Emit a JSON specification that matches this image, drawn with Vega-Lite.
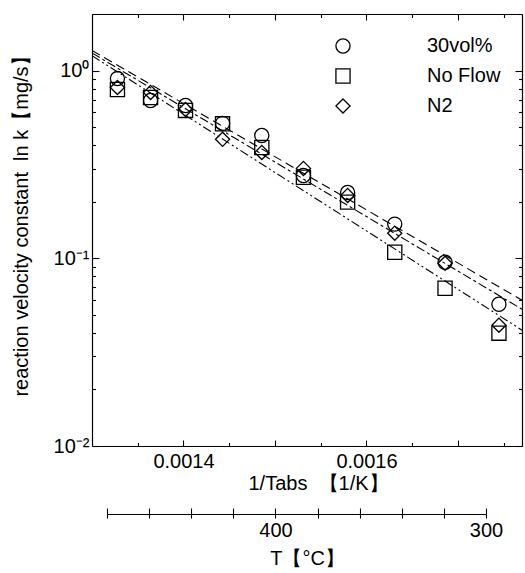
{
  "$schema": "https://vega.github.io/schema/vega-lite/v6.json",
  "width": 430,
  "height": 432,
  "autosize": {"type": "none"},
  "padding": {"left": 92, "top": 14, "right": 3, "bottom": 127},
  "background": "white",
  "config": {
    "view": {"stroke": null},
    "font": "Liberation Sans",
    "axis": {
      "labelFont": "Liberation Sans", "titleFont": "Liberation Sans",
      "labelFontSize": 20, "titleFontSize": 20, "labelColor": "black", "titleColor": "black",
      "titleFontWeight": "normal", "domainColor": "black", "tickColor": "black",
      "domainWidth": 1.2, "tickWidth": 1.1, "grid": false, "labelOverlap": false, "labelFlush": false
    },
    "legend": {
      "labelFont": "Liberation Sans", "labelFontSize": 20, "labelColor": "black",
      "symbolStrokeColor": "black", "symbolStrokeWidth": 1.3, "symbolSize": 200,
      "symbolFillColor": "transparent", "labelOffset": 74, "rowPadding": 10, "padding": 0
    }
  },
  "datasets": {
    "pts": [
      {"series": "30vol%", "invT": 0.0013278, "k": 0.906},
      {"series": "No Flow", "invT": 0.0013278, "k": 0.792},
      {"series": "N2", "invT": 0.0013278, "k": 0.812},
      {"series": "30vol%", "invT": 0.001364, "k": 0.692},
      {"series": "No Flow", "invT": 0.001364, "k": 0.718},
      {"series": "N2", "invT": 0.001364, "k": 0.764},
      {"series": "30vol%", "invT": 0.0014022, "k": 0.651},
      {"series": "No Flow", "invT": 0.0014022, "k": 0.613},
      {"series": "N2", "invT": 0.0014022, "k": 0.62},
      {"series": "30vol%", "invT": 0.0014427, "k": 0.523},
      {"series": "No Flow", "invT": 0.0014427, "k": 0.52},
      {"series": "N2", "invT": 0.0014427, "k": 0.43},
      {"series": "30vol%", "invT": 0.0014856, "k": 0.451},
      {"series": "No Flow", "invT": 0.0014856, "k": 0.389},
      {"series": "N2", "invT": 0.0014856, "k": 0.366},
      {"series": "30vol%", "invT": 0.0015311, "k": 0.276},
      {"series": "No Flow", "invT": 0.0015311, "k": 0.27},
      {"series": "N2", "invT": 0.0015311, "k": 0.301},
      {"series": "30vol%", "invT": 0.0015794, "k": 0.224},
      {"series": "No Flow", "invT": 0.0015794, "k": 0.199},
      {"series": "N2", "invT": 0.0015794, "k": 0.216},
      {"series": "30vol%", "invT": 0.0016309, "k": 0.152},
      {"series": "No Flow", "invT": 0.0016309, "k": 0.1076},
      {"series": "N2", "invT": 0.0016309, "k": 0.136},
      {"series": "30vol%", "invT": 0.0016859, "k": 0.0952},
      {"series": "No Flow", "invT": 0.0016859, "k": 0.0692},
      {"series": "N2", "invT": 0.0016859, "k": 0.094},
      {"series": "30vol%", "invT": 0.0017448, "k": 0.0569},
      {"series": "No Flow", "invT": 0.0017448, "k": 0.0399},
      {"series": "N2", "invT": 0.0017448, "k": 0.044}
    ],
    "fits": [
      {"series": "30vol%", "invT": 0.0013, "k": 1.28},
      {"series": "30vol%", "invT": 0.00177, "k": 0.0598},
      {"series": "N2", "invT": 0.0013, "k": 1.24},
      {"series": "N2", "invT": 0.00177, "k": 0.0535},
      {"series": "No Flow", "invT": 0.0013, "k": 1.2},
      {"series": "No Flow", "invT": 0.00177, "k": 0.0414}
    ],
    "tAxis": [
      {"T": 480},
      {"T": 300}
    ]
  },
  "resolve": {"scale": {"x": "independent"}, "axis": {"x": "independent", "y": "independent"}},
  "layer": [
    {
      "data": {"name": "fits"},
      "mark": {"type": "line", "stroke": "black", "strokeWidth": 1.1, "clip": true},
      "encoding": {
        "x": {"field": "invT", "type": "quantitative", "scale": {"domain": [0.0013, 0.00177], "nice": false, "zero": false},
          "axis": {"orient": "bottom", "title": "1/Tabs\u00a0 【1/K】", "ticks": false, "tickSize": 0,
            "values": [0.0014, 0.0016], "format": ".4f", "labelPadding": 5, "titlePadding": 2, "titleX": 226}},
        "y": {"field": "k", "type": "quantitative", "scale": {"type": "log", "domain": [0.01, 2], "nice": false},
          "axis": {"orient": "left", "title": "reaction velocity constant\u00a0 ln k【mg/s】", "ticks": false, "tickSize": 0,
            "values": [0.01, 0.1, 1], "labelExpr": "datum.value >= 0.5 ? '10⁰' : datum.value >= 0.05 ? '10⁻¹' : '10⁻²'",
            "labelPadding": 3, "titlePadding": 22, "titleY": 207}},
        "strokeDash": {"field": "series", "type": "nominal",
          "scale": {"domain": ["N2", "No Flow", "30vol%"], "range": [[9, 3, 3, 3], [9, 3, 2, 3, 2, 3], [9, 5]]},
          "legend": null},
        "detail": {"field": "series"}
      }
    },
    {
      "data": {"name": "pts"},
      "mark": {"type": "point", "filled": false, "stroke": "black", "strokeWidth": 1.3, "size": 200, "opacity": 1},
      "encoding": {
        "x": {"field": "invT", "type": "quantitative", "scale": {"domain": [0.0013, 0.00177], "nice": false, "zero": false},
          "axis": {"orient": "top", "title": null, "labels": false, "tickSize": -6,
            "values": [0.0014, 0.0015, 0.0016, 0.0017]}},
        "y": {"field": "k", "type": "quantitative", "scale": {"type": "log", "domain": [0.01, 2], "nice": false},
          "axis": {"orient": "right", "title": null, "labels": false, "tickSize": -7, "values": [0.01, 0.1, 1]}},
        "shape": {"field": "series", "type": "nominal",
          "scale": {"domain": ["30vol%", "No Flow", "N2"], "range": ["circle", "square", "diamond"]},
          "legend": {"orient": "none", "legendX": 241, "legendY": 22, "title": null}}
      }
    },
    {
      "data": {"name": "pts"},
      "mark": {"type": "point", "opacity": 0},
      "encoding": {
        "x": {"field": "invT", "type": "quantitative", "scale": {"domain": [0.0013, 0.00177], "nice": false, "zero": false},
          "axis": {"orient": "bottom", "title": null, "labels": false, "domain": false, "tickSize": -6,
            "values": [0.0014, 0.0015, 0.0016, 0.0017]}},
        "y": {"field": "k", "type": "quantitative", "scale": {"type": "log", "domain": [0.01, 2], "nice": false},
          "axis": {"orient": "left", "title": null, "labels": false, "domain": false, "tickSize": -7, "values": [0.01, 0.1, 1]}}
      }
    },
    {
      "data": {"name": "pts"},
      "mark": {"type": "point", "opacity": 0},
      "encoding": {
        "x": {"field": "invT", "type": "quantitative", "scale": {"domain": [0.0013, 0.00177], "nice": false, "zero": false},
          "axis": {"orient": "bottom", "title": null, "labels": false, "domain": false, "tickSize": -3.5,
            "values": [0.00135, 0.00145, 0.00155, 0.00165, 0.00175]}},
        "y": {"field": "k", "type": "quantitative", "scale": {"type": "log", "domain": [0.01, 2], "nice": false},
          "axis": {"orient": "left", "title": null, "labels": false, "domain": false, "tickSize": -3.5,
            "values": [0.02, 0.03, 0.04, 0.05, 0.06, 0.07, 0.08, 0.09, 0.2, 0.3, 0.4, 0.5, 0.6, 0.7, 0.8, 0.9, 2]}}
      }
    },
    {
      "data": {"name": "pts"},
      "mark": {"type": "point", "opacity": 0},
      "encoding": {
        "x": {"field": "invT", "type": "quantitative", "scale": {"domain": [0.0013, 0.00177], "nice": false, "zero": false},
          "axis": {"orient": "top", "title": null, "labels": false, "domain": false, "tickSize": -3.5,
            "values": [0.00135, 0.00145, 0.00155, 0.00165, 0.00175]}},
        "y": {"field": "k", "type": "quantitative", "scale": {"type": "log", "domain": [0.01, 2], "nice": false},
          "axis": {"orient": "right", "title": null, "labels": false, "domain": false, "tickSize": -3.5,
            "values": [0.02, 0.03, 0.04, 0.05, 0.06, 0.07, 0.08, 0.09, 0.2, 0.3, 0.4, 0.5, 0.6, 0.7, 0.8, 0.9, 2]}}
      }
    },
    {
      "data": {"name": "tAxis"},
      "mark": {"type": "point", "opacity": 0},
      "encoding": {
        "x": {"field": "T", "type": "quantitative", "scale": {"domain": [480, 300], "range": [15, 394], "nice": false, "zero": false},
          "axis": {"orient": "bottom", "offset": 68, "title": "T【°C】", "tickSize": 4,
            "values": [300, 320, 340, 360, 380, 400, 420, 440, 460, 480],
            "labelExpr": "datum.value == 400 || datum.value == 300 ? datum.label : ''",
            "labelPadding": 2, "titlePadding": 8, "titleX": 215}}
      }
    },
    {
      "data": {"name": "tAxis"},
      "mark": {"type": "point", "opacity": 0},
      "encoding": {
        "x": {"field": "T", "type": "quantitative", "scale": {"domain": [480, 300], "range": [15, 394], "nice": false, "zero": false},
          "axis": {"orient": "bottom", "offset": 68, "title": null, "labels": false, "domain": false, "tickSize": -6,
            "values": [300, 320, 340, 360, 380, 400, 420, 440, 460, 480]}}
      }
    }
  ]
}
